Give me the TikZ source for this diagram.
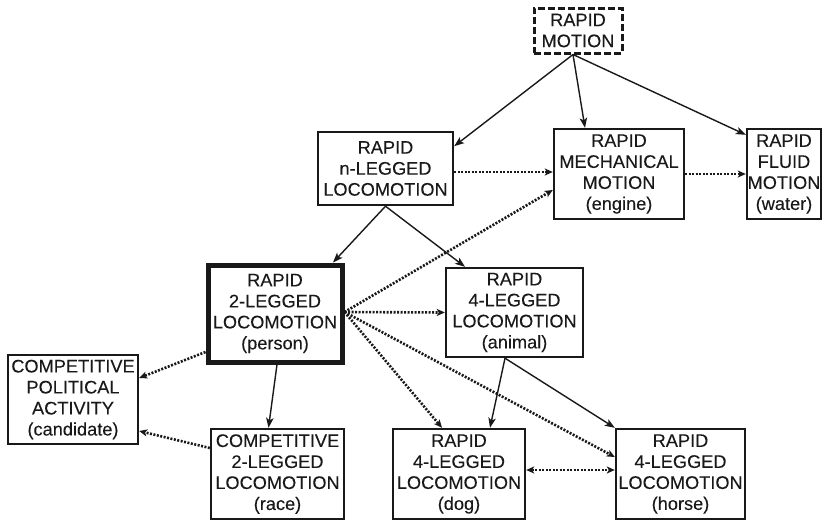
\documentclass[tikz,border=0pt]{standalone}
\usepackage{fontspec}
\setmainfont{Liberation Sans}[BoldFont={Liberation Sans},BoldFeatures={FakeBold=0.12}]
\usetikzlibrary{arrows.meta}
\begin{document}
\begin{tikzpicture}[x=1pt,y=-1pt,
  box/.style={draw=black!90,line width=2.4pt,rectangle,inner sep=0pt,align=center,
     font=\fontsize{18.2}{21}\selectfont\bfseries,text=black!90},
  thickbox/.style={box,line width=5pt},
  dashbox/.style={box,line width=3pt,dash pattern=on 7pt off 3pt},
  solidarrow/.style={line width=1.4pt,draw=black!90,-{Stealth[length=10pt,width=7.5pt,inset=2.5pt]}},
  dotarrow/.style={line width=2.6pt,draw=black!90,dash pattern=on 2pt off 1.5pt,-{Stealth[length=8pt,width=7pt,inset=2pt]}},
  dotboth/.style={dotarrow,{Stealth[length=8pt,width=7pt,inset=2pt]}-{Stealth[length=8pt,width=7pt,inset=2pt]}}]
\useasboundingbox (0,0) rectangle (824,522);
\node[dashbox,minimum width=88pt,minimum height=45pt] (motion) at (578,30.5) {RAPID\\MOTION};
\node[box,minimum width=135pt,minimum height=73pt] (nleg) at (385.5,168.5) {RAPID\\n-LEGGED\\LOCOMOTION};
\node[box,minimum width=130pt,minimum height=90pt] (mech) at (619,174) {RAPID\\MECHANICAL\\MOTION\\(engine)};
\node[box,minimum width=74pt,minimum height=90pt] (fluid) at (784,174) {RAPID\\FLUID\\MOTION\\(water)};
\node[thickbox,minimum width=134pt,minimum height=97pt] (twoleg) at (275,313.5) {RAPID\\2-LEGGED\\LOCOMOTION\\(person)};
\node[box,minimum width=137pt,minimum height=89pt] (animal) at (514.5,312.5) {RAPID\\4-LEGGED\\LOCOMOTION\\(animal)};
\node[box,minimum width=130pt,minimum height=89pt] (polit) at (73,399.5) {COMPETITIVE\\POLITICAL\\ACTIVITY\\(candidate)};
\node[box,minimum width=133pt,minimum height=90pt] (race) at (277.5,474) {COMPETITIVE\\2-LEGGED\\LOCOMOTION\\(race)};
\node[box,minimum width=132pt,minimum height=90pt] (dog) at (459,474) {RAPID\\4-LEGGED\\LOCOMOTION\\(dog)};
\node[box,minimum width=129pt,minimum height=90pt] (horse) at (680.5,474) {RAPID\\4-LEGGED\\LOCOMOTION\\(horse)};
% solid arrows
\draw[solidarrow] ([xshift=-5pt]motion.south) -- (nleg.18);
\draw[solidarrow] ([xshift=-5pt]motion.south) -- ([xshift=-34pt]mech.north);
\draw[solidarrow] ([xshift=-5pt]motion.south) -- ([yshift=-7pt]fluid.north west);
\draw[solidarrow] (nleg.south) -- ([xshift=58pt]twoleg.north);
\draw[solidarrow] (nleg.south) -- ([xshift=-49.5pt]animal.north);
\draw[solidarrow] ([xshift=2pt]twoleg.south) -- ([xshift=-9pt]race.north);
\draw[solidarrow] ([xshift=-9.5pt]animal.south) -- ([xshift=31pt]dog.north);
\draw[solidarrow] ([xshift=-9.5pt]animal.south) -- (horse.north west);
% dotted arrows
\draw[dotarrow] ([yshift=-3.5pt]nleg.east) -- ([yshift=2pt]mech.west);
\draw[dotarrow] (mech.east) -- (fluid.west);
\draw[dotarrow] ([yshift=1.5pt]twoleg.east) -- ([yshift=-16pt]mech.west);
\draw[dotarrow] ([yshift=1.5pt]twoleg.east) -- (animal.west);
\draw[dotarrow] ([yshift=1.5pt]twoleg.east) -- ([xshift=-17pt]dog.north);
\draw[dotarrow] ([yshift=1.5pt]twoleg.east) -- ([yshift=17pt]horse.west);
\draw[dotarrow] ([yshift=-38.5pt]twoleg.west) -- ([yshift=21.5pt]polit.east);
\draw[dotarrow] ([yshift=26pt]race.west) -- ([yshift=-31.5pt]polit.east);
\draw[dotboth] ([yshift=4pt]dog.east) -- ([yshift=4pt]horse.west);
\end{tikzpicture}
\end{document}
